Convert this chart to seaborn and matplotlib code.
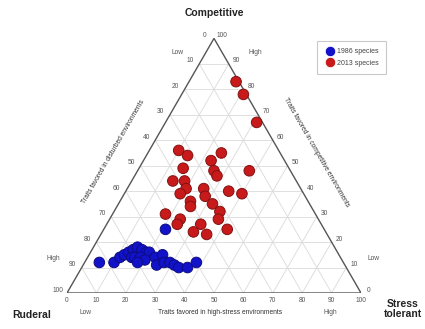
import numpy as np
import pandas as pd
import matplotlib
matplotlib.use("Agg")
import matplotlib.pyplot as plt
import matplotlib.transforms as mtransforms
import seaborn as sns

# Species trait composition (%), CSR triangle
competitive_1986 = [12, 12, 14, 15, 16, 17, 18, 17, 16, 16, 14, 14, 14, 13, 14, 15, 11, 12, 12, 11, 10, 10, 12, 25, 12]
stress_1986 = [5, 10, 11, 12, 13, 14, 15, 17, 19, 20, 15, 16, 18, 20, 23, 25, 25, 27, 29, 31, 33, 36, 38, 21, 18]
ruderal_1986 = [83, 78, 75, 73, 71, 69, 67, 66, 65, 64, 71, 70, 68, 67, 63, 60, 64, 61, 59, 58, 57, 54, 50, 54, 70]

competitive_2013 = [83, 78, 67, 56, 54, 55, 52, 49, 48, 46, 48, 44, 44, 41, 39, 41, 38, 40, 39, 36, 34, 35, 32, 31, 29, 27, 29, 27, 24, 23, 25]
stress_2013 = [16, 21, 31, 10, 14, 25, 23, 15, 26, 28, 38, 14, 18, 20, 19, 26, 28, 35, 40, 24, 25, 32, 36, 18, 24, 24, 37, 32, 31, 36, 42]
ruderal_2013 = [1, 1, 2, 34, 32, 20, 25, 36, 26, 26, 14, 42, 38, 39, 42, 33, 34, 25, 21, 40, 41, 33, 32, 51, 47, 49, 34, 41, 45, 41, 33]

series_labels = ["1986 species", "2013 species"]
tick_values = [0, 10, 20, 30, 40, 50, 60, 70, 80, 90, 100]

H = np.sqrt(3) / 2


def project(c, s, r):
    c, s, r = (np.asarray(v, float) for v in (c, s, r))
    tot = c + s + r
    return (s + c / 2) / tot, c * H / tot


x86, y86 = project(competitive_1986, stress_1986, ruderal_1986)
x13, y13 = project(competitive_2013, stress_2013, ruderal_2013)
df = pd.DataFrame({
    "x": np.concatenate([x86, x13]),
    "y": np.concatenate([y86, y13]),
    "group": [series_labels[0]] * len(x86) + [series_labels[1]] * len(x13),
})

sns.set_theme(style="white")
plt.rcParams["font.family"] = ["Liberation Sans", "DejaVu Sans"]

W, Hpx = 425, 329
fig = plt.figure(figsize=(W / 100, Hpx / 100), dpi=100)
fig.patch.set_facecolor("white")
left_px, right_px, base_px = 67, 361, 293
side = right_px - left_px
ax = fig.add_axes([left_px / W, (Hpx - base_px) / Hpx, side / W, side * H / Hpx])
ax.set_xlim(0, 1)
ax.set_ylim(0, H)
ax.axis("off")

grid_kw = dict(color="#dadada", lw=0.6, zorder=1)
for v in tick_values[1:-1]:
    f = v / 100
    # constant competitive
    ax.plot([f / 2, 1 - f / 2], [f * H, f * H], **grid_kw)
    # constant stress
    ax.plot([f, f + (1 - f) / 2], [0, (1 - f) * H], **grid_kw)
    # constant ruderal
    ax.plot([1 - f, (1 - f) / 2], [0, (1 - f) * H], **grid_kw)

ax.plot([0, 1, 0.5, 0], [0, 0, H, 0], color="#555555", lw=1.0, zorder=2,
        solid_joinstyle="miter")

palette = {series_labels[0]: "#1212c8", series_labels[1]: "#c81a1a"}
sns.scatterplot(data=df, x="x", y="y", hue="group", palette=palette,
                s=58, linewidth=0.7, ax=ax, zorder=3, legend=True)
# darker rim around each dot, matching its fill
for coll in ax.collections:
    fc = np.array(coll.get_facecolors())
    ec = fc.copy()
    ec[:, :3] *= 0.65
    coll.set_edgecolors(ec)

tick_col = "#555555"
tfs = 4.8


def off(dx, dy):
    return mtransforms.offset_copy(ax.transData, fig=fig, x=dx, y=-dy, units="dots")


for v in tick_values:
    f = v / 100
    # bottom: stress tolerant
    ax.text(f, 0, str(v), transform=off(0, 8), ha="center", va="center",
            fontsize=tfs, color=tick_col)
    # left: ruderal (0 at top)
    ax.text((1 - f) / 2, (1 - f) * H, str(v), transform=off(-9, -3),
            ha="center", va="center", fontsize=tfs, color=tick_col)
    # right: competitive (100 at top)
    ax.text(1 - f / 2, f * H, str(v), transform=off(8, -3), ha="center",
            va="center", fontsize=tfs, color=tick_col)


def ftext(x, y, s, **kw):
    fig.text(x / W, 1 - y / Hpx, s, ha="center", va="center", **kw)


lab_kw = dict(fontsize=7.5, fontweight="bold", color="#222222")
ftext(214, 13, "Competitive", **lab_kw)
ftext(32, 315, "Ruderal", **lab_kw)
ftext(403, 309, "Stress\ntolerant", linespacing=1.05, **lab_kw)

ttl_kw = dict(fontsize=4.8, color="#333333")
ftext(220, 313, "Traits favored in high-stress environments", **ttl_kw)
ftext(113, 152, "Traits favored in disturbed environments", rotation=60, **ttl_kw)
ftext(316, 152, "Traits favored in competitive environments", rotation=-60, **ttl_kw)

lh_kw = dict(fontsize=4.8, color="#555555")
ftext(177, 52, "Low", **lh_kw)
ftext(255, 52, "High", **lh_kw)
ftext(53, 258, "High", **lh_kw)
ftext(374, 258, "Low", **lh_kw)
ftext(85, 313, "Low", **lh_kw)
ftext(330, 313, "High", **lh_kw)

sns.move_legend(ax, loc="upper left", bbox_to_anchor=(317 / W, 1 - 41 / Hpx),
                bbox_transform=fig.transFigure, title=None, fontsize=5,
                frameon=True, fancybox=False, edgecolor="#bbbbbb",
                markerscale=1.0, handletextpad=0.3, borderpad=1.0,
                labelspacing=0.7, borderaxespad=0, handlelength=1.6)
leg = ax.get_legend()
leg.get_frame().set_linewidth(0.8)
for t in leg.get_texts():
    t.set_color("#444444")

fig.savefig("out.png", dpi=100, facecolor="white")
